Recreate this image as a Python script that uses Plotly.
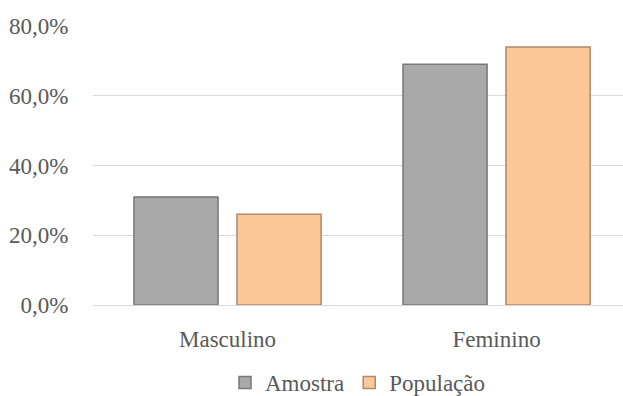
import plotly.graph_objects as go

categories = ["Masculino", "Feminino"]
amostra = [31.0, 69.0]
populacao = [26.0, 74.0]
y_ticks = [0, 20, 40, 60, 80]
y_tick_labels = ["0,0%", "20,0%", "40,0%", "60,0%", "80,0%"]

font_family = "Liberation Serif"
text_color = "#595959"

fig = go.Figure()
fig.add_trace(go.Bar(
    name="Amostra", x=categories, y=amostra,
    marker=dict(color="#A9A9A9", line=dict(color="#777777", width=1.5)),
))
fig.add_trace(go.Bar(
    name="População", x=categories, y=populacao,
    marker=dict(color="#FDC898", line=dict(color="#B0876A", width=1.5)),
))

fig.update_layout(
    width=623, height=396,
    margin=dict(l=93, r=0, t=26, b=91, autoexpand=False),
    paper_bgcolor="white", plot_bgcolor="white",
    barmode="group", bargap=0.234, bargroupgap=0.184,
    font=dict(family=font_family, size=23, color=text_color),
    showlegend=True,
    legend=dict(orientation="h", x=0.5, xanchor="center", y=-0.278, yanchor="middle",
                font=dict(family=font_family, size=23, color=text_color),
                itemwidth=30, tracegroupgap=0, traceorder="normal"),
    xaxis=dict(range=[-0.5, 1.47], showgrid=False, showline=False,
               ticks="outside", ticklen=13, tickcolor="rgba(0,0,0,0)",
               tickfont=dict(family=font_family, size=23, color=text_color)),
    yaxis=dict(range=[0, 80], tickvals=y_ticks, ticktext=y_tick_labels,
               showgrid=True, gridcolor="#D9D9D9", gridwidth=1,
               zeroline=True, zerolinecolor="#D9D9D9", zerolinewidth=1,
               showline=False, ticks="outside", ticklen=19,
               tickcolor="rgba(0,0,0,0)",
               tickfont=dict(family=font_family, size=23, color=text_color)),
)

fig.write_html("out.html")
